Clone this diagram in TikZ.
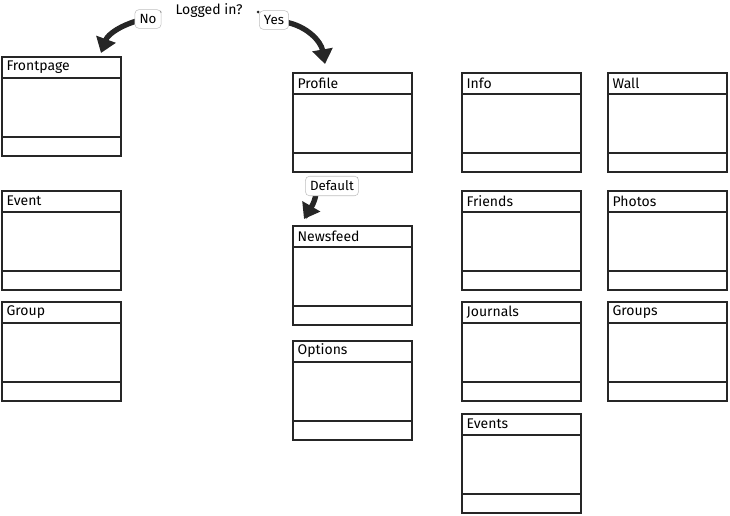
\documentclass[tikz,border=0pt]{standalone}
\usepackage{fontspec}
\setmainfont{Fira Sans}
\usetikzlibrary{arrows.meta,positioning}
\tikzset{
  px/.style={x=0.75pt,y=-0.75pt},
  frame/.style={draw=black!85,line width=1.6pt,inner sep=0pt,anchor=north west,
    minimum width=89.5pt,minimum height=74.5pt},
  ttl/.style={anchor=west,font=\fontsize{10.5}{12}\selectfont,inner sep=0pt},
  sep/.style={draw=black!85,line width=1.6pt},
  tag/.style={draw=black!25,rounded corners=3pt,fill=white,
    font=\fontsize{10}{12}\selectfont,inner sep=3.5pt},
  bigarrow/.style={line width=4pt,black!85,-{Triangle[length=11pt,width=15pt]}}
}
\newcommand\screen[4]{% name, x, y, label
  \node[frame] (#1) at (#2,#3) {};
  \node[ttl] (#1-t) at ([xshift=4pt,yshift=-8.2pt]#1.north west) {#4};
  \draw[sep] ([yshift=-16.5pt]#1.north west) -- ([yshift=-16.5pt]#1.north east);
  \draw[sep] ([yshift=15.5pt]#1.south west) -- ([yshift=15.5pt]#1.south east);
}
\begin{document}
\begin{tikzpicture}[px]
\useasboundingbox (0,0) rectangle (730,515);
\screen{front}{1}{56}{Frontpage}
\screen{event}{1}{190}{Event}
\screen{group}{1}{301}{Group}
\screen{profile}{292}{72}{Profile}
\screen{newsfeed}{292}{225}{Newsfeed}
\screen{options}{292}{340}{Options}
\screen{info}{461}{72}{Info}
\screen{friends}{461}{190}{Friends}
\screen{journals}{461}{301}{Journals}
\screen{events}{461}{413}{Events}
\screen{wall}{607}{72}{Wall}
\screen{photos}{607}{190}{Photos}
\screen{groups}{607}{301}{Groups}

\node[font=\fontsize{10.5}{12}\selectfont] (q) at (209,11) {Logged in?};
\fill[black!85] (160,12) circle (1.5);
\fill[black!85] (258,12) circle (1.5);
\fill[black!85] (357,178) circle (1.2);
\draw[bigarrow] (140,20) to[out=195,in=70] (101,53);
\draw[bigarrow] (285,22) to[out=-10,in=100] (325,64);
\draw[bigarrow] (316,194) to[out=-100,in=60] (304,219);
\node[tag] (no) at (148,19) {No};
\node[tag] (yes) at (274,20) {Yes};
\node[tag] (def) at (332,186) {Default};
\end{tikzpicture}
\end{document}
